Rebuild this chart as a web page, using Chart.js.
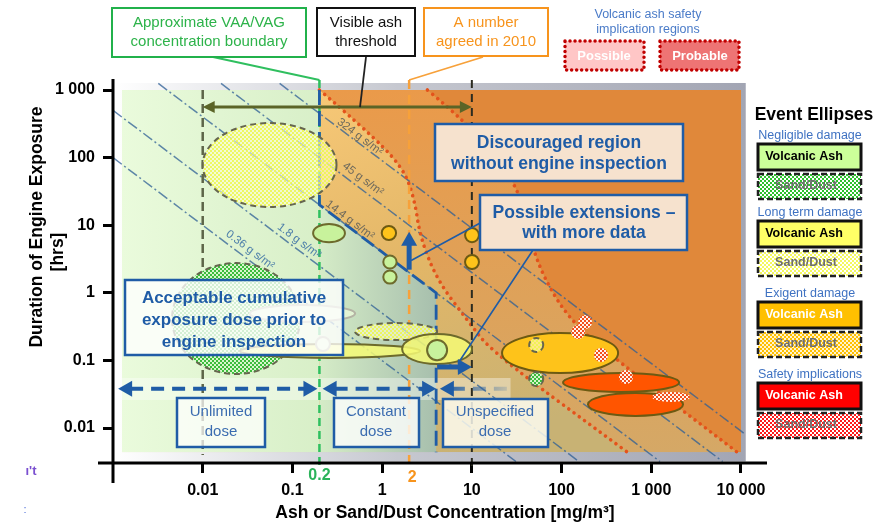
<!DOCTYPE html>
<html>
<head>
<meta charset="utf-8">
<script src="https://cdn.jsdelivr.net/npm/chart.js@4.4.1/dist/chart.umd.min.js"></script>
<style>
  html, body { margin: 0; padding: 0; background: #ffffff; }
  canvas { display: block; }
</style>
</head>
<body>
<canvas id="grafico" width="884" height="523"></canvas>
<script>
const FONTE = '"Liberation Sans", Arial, sans-serif';

// axes (concentration mg/m³, duration hrs)
const xTicks = [0.01, 0.1, 1, 10, 100, 1000, 10000];
const xTickLabels = ["0.01", "0.1", "1", "10", "100", "1 000", "10 000"];
const yTicks = [0.01, 0.1, 1, 10, 100, 1000];
const yTickLabels = ["0.01", "0.1", "1", "10", "100", "1 000"];
const xLimits = [0.001, 19500];
const yLimits = [0.00304, 1455];

// shaded frame and the coloured field inside it
const frameX = [0.001, 11300];
const frameY = [0.0032, 1270];
const fieldX = [0.00126, 10000];
const fieldY = [0.0044, 1000];

// lines of constant dose
const doseLabels = ["0.36 g s/m²", "1.8 g s/m²", "14.4 g s/m²", "45 g s/m²", "324 g s/m²"];
const doseFrom = [[0.001, 100], [0.001, 500], [0.0032, 1250], [0.016, 1250], [0.072, 1250]];
const doseTo = [[31, 0.0032], [156, 0.0032], [1250, 0.0032], [6250, 0.0032], [11300, 0.008]];
const doseLabelAt = [[0.0337, 4.3], [0.1186, 5.84], [0.438, 11.9], [0.612, 48], [0.567, 202]];

// acceptable cumulative exposure region and safety boundaries
const acceptBoundary = [[0.2, 1000], [0.2, 20], [4, 1], [4, 0.0044]];
const possibleCurve = [[0.2, 1000], [0.61, 284], [1.7, 73], [2.3, 24], [2.65, 6.7], [4.1, 1.55], [8.8, 0.4], [17, 0.13], [540, 0.0044]];
const probableCurve = [[3.2, 1000], [9.5, 300], [23.4, 70], [36.3, 23.6], [44.6, 6.0], [65, 1.55], [124, 0.4], [347, 0.12], [9060, 0.0044]];

// vertical guides: VAG start, VAA/VAG boundary, 2010 number, visible ash
const guideX = [0.01, 0.2, 2, 10];
const guideLabels = ["", "0.2", "2", ""];

const visibleAshSpan = [0.01, 10];
const visibleAshLevel = 560;

const doseBandSpans = [[0.00114, 0.19], [0.217, 4], [4.4, 27]];
const doseBandLevel = 0.038;
const doseBandY = [0.026, 0.055];

const extensionUp = [2, 2.2, 8];       // x, from y, to y
const extensionRight = [0.08, 4.1, 10]; // y, from x, to x

// event ellipses: kind, x range, y range
const ellipseKind = ["sdLong", "sdNeg", "pale", "vaNeg", "vaNeg", "vaNeg", "vaExi", "vaExi", "vaExi",
  "sdLong", "vaLong", "vaLong", "vaNeg", "pale", "vaExi", "sdLong", "sdSafe", "sdSafe", "sdSafe",
  "sdNeg", "vaSafe", "sdSafe", "vaSafe", "sdSafe"];
const ellipseX = [[0.01, 0.31], [0.00455, 0.122], [0.0336, 0.5], [0.17, 0.385], [1.03, 1.45], [1.03, 1.45],
  [0.99, 1.43], [8.4, 12.0], [8.4, 12.0], [0.5, 4.1], [0.026, 2.65], [1.67, 10.05], [3.17, 5.3],
  [0.183, 0.262], [21.7, 427], [43.6, 62.5], [153, 219], [128, 183], [230, 330], [43.6, 62.5],
  [104, 2042], [437, 626], [197, 2260], [1021, 2710]];
const ellipseY = [[18.6, 325], [0.063, 2.76], [0.37, 0.66], [5.6, 10.4], [2.29, 3.57], [1.37, 2.14],
  [6.03, 9.75], [5.6, 9.1], [2.25, 3.63], [0.2, 0.357], [0.109, 0.175], [0.0885, 0.246], [0.101, 0.201],
  [0.138, 0.222], [0.065, 0.254], [0.133, 0.215], [0.291, 0.47], [0.207, 0.335], [0.0947, 0.153],
  [0.0419, 0.0676], [0.0341, 0.065], [0.0447, 0.0722], [0.0151, 0.033], [0.0243, 0.0341]];

let padroes = null;

function xadrez(ctx, c1, c2, tam) {
  const p = document.createElement("canvas");
  p.width = p.height = tam * 2;
  const g = p.getContext("2d");
  g.fillStyle = c2; g.fillRect(0, 0, tam * 2, tam * 2);
  g.fillStyle = c1; g.fillRect(0, 0, tam, tam); g.fillRect(tam, tam, tam, tam);
  return ctx.createPattern(p, "repeat");
}

function criarPadroes(ctx) {
  padroes = {
    green: xadrez(ctx, "#3cbc3c", "#d8f6cc", 2),
    yellow: xadrez(ctx, "rgba(236,246,70,0.8)", "rgba(255,255,215,0.6)", 2),
    amber: xadrez(ctx, "#ffc000", "#fff3cc", 2),
    red: xadrez(ctx, "#f2501c", "#fff4ee", 2),
    greenL: xadrez(ctx, "#2ec02e", "#ffffff", 2),
    yellowL: xadrez(ctx, "#f4f860", "#ffffff", 2),
    redL: xadrez(ctx, "#ff1a1a", "#ffffff", 2)
  };
}

function estilo(kind) {
  switch (kind) {
    case "vaNeg": return { fill: "#c8f29c", stroke: "#6d6a2c", dash: [] };
    case "sdNeg": return { fill: padroes.green, stroke: "#66664e", dash: [6, 4] };
    case "vaLong": return { fill: "rgba(246,250,118,0.85)", stroke: "#6d6a2c", dash: [] };
    case "sdLong": return { fill: padroes.yellow, stroke: "#66664e", dash: [6, 4] };
    case "vaExi": return { fill: "#fec31a", stroke: "#6d5a12", dash: [] };
    case "vaSafe": return { fill: "#ff5500", stroke: "#6d5a12", dash: [] };
    case "sdSafe": return { fill: padroes.red, stroke: null, dash: [] };
    default: return { fill: "#e3f4d4", stroke: "#b4b4a4", dash: [] };
  }
}

function suave(ctx, pts, mover) {
  if (mover) ctx.moveTo(pts[0][0], pts[0][1]); else ctx.lineTo(pts[0][0], pts[0][1]);
  for (let i = 1; i < pts.length - 1; i++) {
    const mx = (pts[i][0] + pts[i + 1][0]) / 2, my = (pts[i][1] + pts[i + 1][1]) / 2;
    ctx.quadraticCurveTo(pts[i][0], pts[i][1], mx, my);
  }
  const u = pts[pts.length - 1];
  ctx.lineTo(u[0], u[1]);
}

function ponta(ctx, x, y, ang, len, meia, cor) {
  ctx.save();
  ctx.translate(x, y); ctx.rotate(ang);
  ctx.beginPath(); ctx.moveTo(0, 0); ctx.lineTo(-len, -meia); ctx.lineTo(-len, meia); ctx.closePath();
  ctx.fillStyle = cor; ctx.fill();
  ctx.restore();
}

function escrever(ctx, str, x, y, tam, cor, negrito, alinhar) {
  ctx.font = (negrito ? "bold " : "") + tam + "px " + FONTE;
  ctx.fillStyle = cor;
  ctx.textAlign = alinhar || "center";
  ctx.textBaseline = "middle";
  ctx.fillText(str, x, y);
}

function caixa(ctx, x, y, w, h, fill, stroke, lw, dash) {
  ctx.save();
  if (fill) { ctx.fillStyle = fill; ctx.fillRect(x, y, w, h); }
  if (stroke) {
    ctx.setLineDash(dash || []);
    ctx.lineWidth = lw; ctx.strokeStyle = stroke;
    if (dash && dash[0] < 1) ctx.lineCap = "round";
    ctx.strokeRect(x, y, w, h);
  }
  ctx.restore();
}

function fundo(chart) {
  const ctx = chart.ctx;
  const X = (v) => chart.scales.x.getPixelForValue(v);
  const Y = (v) => chart.scales.y.getPixelForValue(v);
  ctx.save();

  const fx0 = X(frameX[0]), fx1 = X(frameX[1]), fy0 = Y(frameY[1]), fy1 = Y(frameY[0]);
  let g = ctx.createLinearGradient(fx0, 0, fx1, 0);
  g.addColorStop(0, "#ffffff"); g.addColorStop(0.45, "#c6c8d0"); g.addColorStop(1, "#a2a5b3");
  ctx.fillStyle = g; ctx.fillRect(fx0, fy0, fx1 - fx0, fy1 - fy0);

  const ix0 = X(fieldX[0]), ix1 = X(fieldX[1]), iy0 = Y(fieldY[1]), iy1 = Y(fieldY[0]);
  ctx.beginPath(); ctx.rect(ix0, iy0, ix1 - ix0, iy1 - iy0); ctx.clip();

  g = ctx.createLinearGradient(X(0.2), iy0, X(12), iy1);
  g.addColorStop(0, "#f7c877"); g.addColorStop(0.5, "#e2b667"); g.addColorStop(1, "#c8b274");
  ctx.fillStyle = g; ctx.fillRect(ix0, iy0, ix1 - ix0, iy1 - iy0);

  const c1 = possibleCurve.map((p) => [X(p[0]), Y(p[1])]);
  g = ctx.createLinearGradient(0, iy0, 0, iy1);
  g.addColorStop(0, "#ea9a4a"); g.addColorStop(1, "#d5a866");
  ctx.beginPath(); suave(ctx, c1, true); ctx.lineTo(ix1, iy1); ctx.lineTo(ix1, iy0); ctx.closePath();
  ctx.fillStyle = g; ctx.fill();

  const c2 = probableCurve.map((p) => [X(p[0]), Y(p[1])]);
  ctx.beginPath(); suave(ctx, c2, true); ctx.lineTo(ix1, iy1); ctx.lineTo(ix1, iy0); ctx.closePath();
  ctx.fillStyle = "#e0883a"; ctx.fill();

  g = ctx.createLinearGradient(ix0, 0, X(0.2), 0);
  g.addColorStop(0, "#eafbdc"); g.addColorStop(1, "#d8efc8");
  ctx.fillStyle = g; ctx.fillRect(ix0, iy0, X(0.2) - ix0, iy1 - iy0);

  g = ctx.createLinearGradient(X(0.2), 0, X(4), 0);
  g.addColorStop(0, "#d5ecc7"); g.addColorStop(1, "#a7bfad");
  ctx.beginPath();
  acceptBoundary.slice(1).forEach((p, i) => {
    if (i === 0) ctx.moveTo(X(p[0]), Y(p[1])); else ctx.lineTo(X(p[0]), Y(p[1]));
  });
  ctx.lineTo(X(0.2), iy1); ctx.closePath();
  ctx.fillStyle = g; ctx.fill();

  ctx.fillStyle = "rgba(255,255,255,0.38)";
  ctx.fillRect(ix0, Y(doseBandY[1]), X(doseBandSpans[2][1]) - ix0, Y(doseBandY[0]) - Y(doseBandY[1]));
  ctx.restore();
}

function sobre(chart) {
  const ctx = chart.ctx;
  const X = (v) => chart.scales.x.getPixelForValue(v);
  const Y = (v) => chart.scales.y.getPixelForValue(v);
  if (!padroes) criarPadroes(ctx);
  ctx.save();

  // red dotted safety boundaries
  [possibleCurve, probableCurve].forEach((curva) => {
    const pts = curva.map((p) => [X(p[0]), Y(p[1])]);
    ctx.beginPath(); suave(ctx, pts, true);
    ctx.setLineDash([0.01, 6.5]); ctx.lineCap = "round"; ctx.lineWidth = 3.6;
    ctx.strokeStyle = "#e4521b"; ctx.stroke();
  });
  ctx.lineCap = "butt";

  // vertical guides
  const topo = Y(yLimits[1]) + 1, baixo = Y(0.0025);
  const guias = [
    { cor: "#5d6548", dash: [9, 5], w: 2.5, y0: Y(fieldY[1]), y1: Y(0.004) },
    { cor: "#2fbf5f", dash: [8, 5], w: 2.5, y0: topo, y1: baixo },
    { cor: "#f7a13a", dash: [9, 6], w: 2.5, y0: topo, y1: baixo },
    { cor: "#2b2b20", dash: [8, 6], w: 2, y0: topo, y1: baixo }
  ];
  guideX.forEach((gx, i) => {
    const s = guias[i];
    ctx.beginPath(); ctx.moveTo(X(gx), s.y0); ctx.lineTo(X(gx), s.y1);
    ctx.setLineDash(s.dash); ctx.lineWidth = s.w; ctx.strokeStyle = s.cor; ctx.stroke();
  });

  // acceptable dose boundary
  ctx.beginPath();
  acceptBoundary.forEach((p, i) => {
    if (i === 0) ctx.moveTo(X(p[0]), Y(p[1])); else ctx.lineTo(X(p[0]), Y(p[1]));
  });
  ctx.setLineDash([15, 6]); ctx.lineWidth = 2.8; ctx.strokeStyle = "#1f5ca6"; ctx.stroke();
  ctx.setLineDash([]);

  // dose labels
  const ang = Math.atan2(Y(0.1) - Y(1), X(10) - X(1));
  doseLabels.forEach((t, i) => {
    ctx.save();
    ctx.translate(X(doseLabelAt[i][0]), Y(doseLabelAt[i][1]));
    ctx.rotate(ang);
    escrever(ctx, t, 0, 0, 11.5, doseLabelAt[i][0] < 0.2 ? "#4f80aa" : "#6f6a5c", false);
    ctx.restore();
  });

  // visible ash arrow
  const ay = Y(visibleAshLevel), ax0 = X(visibleAshSpan[0]), ax1 = X(visibleAshSpan[1]);
  ctx.beginPath(); ctx.moveTo(ax0 + 8, ay); ctx.lineTo(ax1 - 8, ay);
  ctx.lineWidth = 3; ctx.strokeStyle = "#5b6427"; ctx.stroke();
  ponta(ctx, ax0, ay, Math.PI, 12, 6, "#5b6427");
  ponta(ctx, ax1, ay, 0, 12, 6, "#5b6427");

  // event ellipses
  ellipseKind.forEach((k, i) => {
    const s = estilo(k);
    const x0 = X(ellipseX[i][0]), x1 = X(ellipseX[i][1]);
    const y0 = Y(ellipseY[i][1]), y1 = Y(ellipseY[i][0]);
    ctx.beginPath();
    ctx.ellipse((x0 + x1) / 2, (y0 + y1) / 2, (x1 - x0) / 2, (y1 - y0) / 2, 0, 0, Math.PI * 2);
    ctx.fillStyle = s.fill; ctx.fill();
    if (s.stroke) {
      ctx.setLineDash(s.dash); ctx.lineWidth = 2; ctx.strokeStyle = s.stroke; ctx.stroke();
      ctx.setLineDash([]);
    }
  });

  // dose bands along the bottom
  const by = Y(doseBandLevel);
  const azul = "#1f5ca6";
  doseBandSpans.forEach((sp, i) => {
    const a = X(sp[0]), b = X(sp[1]);
    ctx.beginPath();
    if (i < 2) { ctx.moveTo(a + 12, by); ctx.lineTo(b - 12, by); ctx.strokeStyle = azul; }
    else {
      ctx.moveTo(a + 12, by); ctx.lineTo(b, by);
      const g = ctx.createLinearGradient(a, 0, b, 0);
      g.addColorStop(0, azul); g.addColorStop(1, "rgba(31,92,166,0.12)");
      ctx.strokeStyle = g;
    }
    ctx.setLineDash([13, 8]); ctx.lineWidth = 4; ctx.stroke();
    ctx.setLineDash([]);
    ponta(ctx, a, by, Math.PI, 14, 8, azul);
    if (i < 2) ponta(ctx, b, by, 0, 14, 8, azul);
  });
  caixa(ctx, 177, 398, 88, 49, "rgba(255,255,255,0.72)", azul, 2.5);
  caixa(ctx, 334, 398, 85, 49, "rgba(255,255,255,0.78)", azul, 2.5);
  caixa(ctx, 443, 399, 105, 48, "rgba(255,255,245,0.82)", azul, 2.5);
  escrever(ctx, "Unlimited", 221, 412, 15, "#3b6cb0");
  escrever(ctx, "dose", 221, 432, 15, "#3b6cb0");
  escrever(ctx, "Constant", 376, 412, 15, "#3b6cb0");
  escrever(ctx, "dose", 376, 432, 15, "#3b6cb0");
  escrever(ctx, "Unspecified", 495, 412, 15, "#3b6cb0");
  escrever(ctx, "dose", 495, 432, 15, "#3b6cb0");

  // text panels in the plot
  caixa(ctx, 125, 280, 218, 75, "rgba(255,255,255,0.78)", azul, 2.5);
  escrever(ctx, "Acceptable cumulative", 234, 298, 17, azul, true);
  escrever(ctx, "exposure dose prior to", 234, 320, 17, azul, true);
  escrever(ctx, "engine inspection", 234, 342, 17, azul, true);

  caixa(ctx, 435, 124, 248, 57, "#f6e2ce", azul, 2.5);
  escrever(ctx, "Discouraged region", 559, 143, 17.5, azul, true);
  escrever(ctx, "without engine inspection", 559, 164, 17.5, azul, true);

  // extension arrows and their callout lines
  ctx.beginPath();
  ctx.moveTo(482, 222); ctx.lineTo(X(extensionUp[0]) + 2, Y(3));
  ctx.moveTo(533, 250); ctx.lineTo(X(7), Y(0.09));
  ctx.lineWidth = 1.6; ctx.strokeStyle = azul; ctx.stroke();

  const ux = X(extensionUp[0]);
  ctx.beginPath(); ctx.moveTo(ux, Y(extensionUp[1])); ctx.lineTo(ux, Y(extensionUp[2]) + 10);
  ctx.lineWidth = 5; ctx.stroke();
  ponta(ctx, ux, Y(extensionUp[2]), -Math.PI / 2, 14, 8, azul);
  const ry = Y(extensionRight[0]);
  ctx.beginPath(); ctx.moveTo(X(extensionRight[1]), ry); ctx.lineTo(X(extensionRight[2]) - 10, ry);
  ctx.lineWidth = 5; ctx.stroke();
  ponta(ctx, X(extensionRight[2]), ry, 0, 14, 8, azul);

  caixa(ctx, 480, 195, 207, 55, "#f6e2ce", azul, 2.5);
  escrever(ctx, "Possible extensions –", 584, 213, 17.5, azul, true);
  escrever(ctx, "with more data", 584, 233, 17.5, azul, true);

  // callouts above the plot
  ctx.beginPath(); ctx.moveTo(213, 57); ctx.lineTo(X(guideX[1]), topo);
  ctx.lineWidth = 1.8; ctx.strokeStyle = "#2fbf5f"; ctx.stroke();
  ctx.beginPath(); ctx.moveTo(366, 57); ctx.lineTo(360, ay);
  ctx.strokeStyle = "#222222"; ctx.stroke();
  ctx.beginPath(); ctx.moveTo(483, 57); ctx.lineTo(X(guideX[2]), topo);
  ctx.strokeStyle = "#f7a13a"; ctx.stroke();

  caixa(ctx, 112, 8, 194, 49, "#ffffff", "#21b14b", 2);
  escrever(ctx, "Approximate VAA/VAG", 209, 23, 15, "#2db34a");
  escrever(ctx, "concentration boundary", 209, 42, 15, "#2db34a");
  caixa(ctx, 317, 8, 98, 48, "#ffffff", "#111111", 2);
  escrever(ctx, "Visible ash", 366, 23, 15, "#111111");
  escrever(ctx, "threshold", 366, 42, 15, "#111111");
  caixa(ctx, 424, 8, 124, 48, "#ffffff", "#f7941d", 2);
  escrever(ctx, "A number", 486, 23, 15, "#f7941d");
  escrever(ctx, "agreed in 2010", 486, 42, 15, "#f7941d");

  escrever(ctx, "Volcanic ash safety", 648, 15, 12.5, "#4a7bc8");
  escrever(ctx, "implication regions", 648, 30, 12.5, "#4a7bc8");
  caixa(ctx, 565, 41, 79, 29, "#ffc6c6", "#c00000", 3.5, [0.01, 5]);
  caixa(ctx, 660, 41, 79, 29, "#ee7474", "#c00000", 3.5, [0.01, 5]);
  escrever(ctx, "Possible", 604, 56, 13, "#ffffff", true);
  escrever(ctx, "Probable", 700, 56, 13, "#ffffff", true);

  ctx.restore();
}

function eixos(chart) {
  const ctx = chart.ctx;
  const X = (v) => chart.scales.x.getPixelForValue(v);
  const a = chart.chartArea;
  ctx.save();
  ctx.beginPath();
  ctx.moveTo(a.left, a.top); ctx.lineTo(a.left, a.bottom + 20);
  ctx.moveTo(a.left - 15, a.bottom); ctx.lineTo(a.right, a.bottom);
  ctx.lineWidth = 3; ctx.strokeStyle = "#000000"; ctx.stroke();

  escrever(ctx, guideLabels[1], X(guideX[1]), 476, 16, "#2bb35a", true);
  escrever(ctx, guideLabels[2], X(guideX[2]) + 3, 478, 16, "#f7941d", true);

  escrever(ctx, "Ash or Sand/Dust Concentration [mg/m³]", 445, 513, 17.5, "#000000", true);
  ctx.save();
  ctx.translate(37, 227); ctx.rotate(-Math.PI / 2);
  escrever(ctx, "Duration of Engine Exposure", 0, 0, 17.5, "#000000", true);
  ctx.restore();
  ctx.save();
  ctx.translate(58, 252); ctx.rotate(-Math.PI / 2);
  escrever(ctx, "[hrs]", 0, 0, 17.5, "#000000", true);
  ctx.restore();

  escrever(ctx, "ı't", 31, 471, 13, "#7a4fd0", true);
  escrever(ctx, ":", 25, 510, 11, "#4f6fd8", false);

  // event ellipse legend
  escrever(ctx, "Event Ellipses", 814, 115, 17.5, "#000000", true);
  const grupos = [
    { t: "Negligible damage", y: 136, va: "#ccff99", vaTxt: "#000000", sd: padroes.greenL },
    { t: "Long term damage", y: 213, va: "#ffff66", vaTxt: "#000000", sd: padroes.yellowL },
    { t: "Exigent damage", y: 294, va: "#ffc000", vaTxt: "#ffffff", sd: padroes.amber },
    { t: "Safety implications", y: 375, va: "#ff0000", vaTxt: "#ffffff", sd: padroes.redL }
  ];
  grupos.forEach((gr) => {
    escrever(ctx, gr.t, 810, gr.y, 12.5, "#3f72c2");
    caixa(ctx, 758, gr.y + 8, 103, 26, gr.va, "#111111", 3);
    escrever(ctx, "Volcanic Ash", 804, gr.y + 21, 12.5, gr.vaTxt, true);
    caixa(ctx, 758, gr.y + 38, 103, 25, gr.sd, "#222222", 2.5, [6, 3]);
    escrever(ctx, "Sand/Dust", 806, gr.y + 50, 12.5, "#6e6e6e", true);
  });
  ctx.restore();
}

const diagrama = {
  id: "diagrama",
  beforeDatasetsDraw(chart) { fundo(chart); },
  afterDatasetsDraw(chart) { sobre(chart); },
  afterDraw(chart) { eixos(chart); }
};

const tickFont = { family: FONTE, size: 16, weight: "bold" };

new Chart(document.getElementById("grafico"), {
  type: "scatter",
  data: {
    datasets: doseFrom.map((p, i) => ({
      data: [{ x: p[0], y: p[1] }, { x: doseTo[i][0], y: doseTo[i][1] }],
      showLine: true,
      borderColor: "rgba(45,95,150,0.75)",
      borderWidth: 1.5,
      borderDash: [11, 3, 2, 3],
      pointRadius: 0
    }))
  },
  options: {
    responsive: false,
    animation: false,
    events: [],
    layout: { padding: { left: 0, right: 117, top: 79, bottom: 0 } },
    plugins: { legend: { display: false }, tooltip: { enabled: false } },
    scales: {
      x: {
        type: "logarithmic",
        min: xLimits[0],
        max: xLimits[1],
        afterBuildTicks: (s) => { s.ticks = xTicks.map((v) => ({ value: v })); },
        afterFit: (s) => { s.height = 60; },
        ticks: {
          callback: (v, i) => xTickLabels[i],
          font: tickFont, color: "#000000", padding: 8, maxRotation: 0, autoSkip: false
        },
        grid: { drawOnChartArea: false, tickLength: 10, tickWidth: 3, tickColor: "#000000" },
        border: { display: false }
      },
      y: {
        type: "logarithmic",
        min: yLimits[0],
        max: yLimits[1],
        afterBuildTicks: (s) => { s.ticks = yTicks.map((v) => ({ value: v })); },
        afterFit: (s) => { s.width = 113; },
        ticks: {
          callback: (v, i) => yTickLabels[i],
          font: tickFont, color: "#000000", padding: 8, autoSkip: false
        },
        grid: { drawOnChartArea: false, tickLength: 10, tickWidth: 3, tickColor: "#000000" },
        border: { display: false }
      }
    }
  },
  plugins: [diagrama]
});
</script>
</body>
</html>
